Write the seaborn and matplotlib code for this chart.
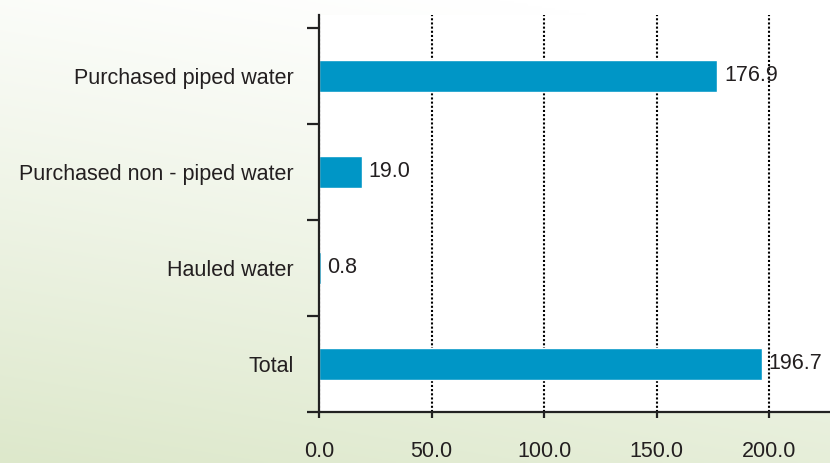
import matplotlib
matplotlib.use("Agg")
import matplotlib.pyplot as plt
import seaborn as sns
import numpy as np
import pandas as pd

categories = ["Purchased piped water", "Purchased non - piped water", "Hauled water", "Total"]
values = [176.9, 19.0, 0.8, 196.7]
value_labels = ["176.9", "19.0", "0.8", "196.7"]
x_ticks = [0, 50, 100, 150, 200]
x_tick_labels = ["0.0", "50.0", "100.0", "150.0", "200.0"]

sns.set_style("white")
plt.rcParams["font.family"] = ["Liberation Sans", "DejaVu Sans"]
text_color = "#231f20"
bar_color = "#0096c6"
fs = 15.5

fig = plt.figure(figsize=(8.3, 4.63), dpi=100)

# background gradient: white at top, pale green towards bottom-left
bg = fig.add_axes([0, 0, 1, 1], zorder=-10)
h, w = 200, 300
yy, xx = np.mgrid[0:1:complex(0, h), 0:1:complex(0, w)]
t = np.clip(0.85 * yy + 0.25 * (1 - xx) - 0.1, 0, 1) ** 1.1
top = np.array([1.0, 1.0, 1.0])
bottom = np.array([221, 232, 203]) / 255.0
img = top[None, None, :] * (1 - t[..., None]) + bottom[None, None, :] * t[..., None]
bg.imshow(img, aspect="auto", extent=[0, 1, 0, 1], origin="upper")
bg.axis("off")

ax = fig.add_axes([319 / 830, 1 - 412 / 463, 1 - 319 / 830, (412 - 15) / 463])
ax.set_facecolor("white")

df = pd.DataFrame({"category": categories, "value": values})
sns.barplot(data=df, x="value", y="category", orient="h", color=bar_color,
            saturation=1, width=0.33, ax=ax, zorder=3)

ax.set_xlim(0, 227)
ax.set_ylim(3.5, -0.635)

# category boundary ticks (major), labels on minor ticks at centres
ax.set_yticks([-0.5, 0.5, 1.5, 2.5, 3.5])
ax.set_yticklabels([])
ax.set_yticks(range(len(categories)), minor=True)
ax.set_yticklabels(categories, minor=True, fontsize=fs, color=text_color)
ax.tick_params(axis="y", which="major", direction="out", length=9, width=1.6, color="#222222", left=True)
ax.tick_params(axis="y", which="minor", length=0, pad=18)

ax.set_xticks(x_ticks)
ax.set_xticklabels(x_tick_labels, fontsize=fs, color=text_color)
ax.tick_params(axis="x", direction="out", length=4, width=1.6, color="#222222", pad=17, bottom=True)

ax.xaxis.grid(True, linestyle=(0, (1, 1)), color="black", linewidth=1.5, zorder=1)
ax.yaxis.grid(False)
ax.set_axisbelow(True)

for side in ["top", "right"]:
    ax.spines[side].set_visible(False)
for side in ["left", "bottom"]:
    ax.spines[side].set_color("#222222")
    ax.spines[side].set_linewidth(1.6)
    ax.spines[side].set_zorder(5)

for i, (v, lab) in enumerate(zip(values, value_labels)):
    ax.text(v + 3, i, lab, va="center", ha="left", fontsize=fs, color=text_color, zorder=6)

ax.set_xlabel("")
ax.set_ylabel("")

fig.savefig("out.png", dpi=100)
plt.close(fig)
